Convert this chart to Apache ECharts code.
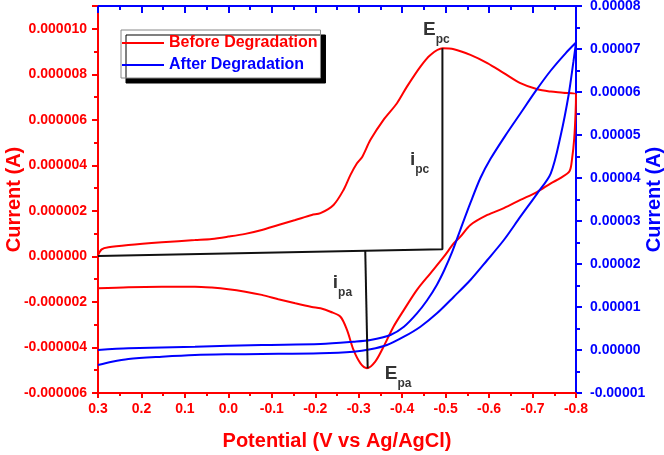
<!DOCTYPE html>
<html><head><meta charset="utf-8">
<script src="https://cdn.jsdelivr.net/npm/echarts@6/dist/echarts.min.js"></script>
<style>html,body{margin:0;padding:0;background:#fff}#c{width:664px;height:455px}</style>
</head><body><div id="c"></div>
<script>
// Potential (V vs Ag/AgCl) and current (µA)
const redPotential = [0.30, 0.2915, 0.276, 0.230, 0.153, 0.077, 0.038, 0.000, -0.039, -0.077, -0.115, -0.154, -0.192, -0.212, -0.242, -0.265, -0.281, -0.296, -0.308, -0.327, -0.357, -0.388, -0.411, -0.442, -0.465, -0.493, -0.519, -0.557, -0.596, -0.634, -0.672, -0.711, -0.742, -0.770, -0.800,
  -0.799, -0.796, -0.791, -0.785, -0.765, -0.742, -0.711, -0.672, -0.634, -0.596, -0.557, -0.534, -0.519, -0.496, -0.465, -0.434, -0.404, -0.380, -0.357, -0.338, -0.319, -0.304, -0.288, -0.273, -0.258, -0.235, -0.212, -0.192, -0.154, -0.115, -0.077, -0.039, 0.000, 0.038, 0.077, 0.153, 0.230, 0.300];
const redCurrent = [0.06, 0.31, 0.40, 0.50, 0.62, 0.72, 0.77, 0.87, 0.99, 1.16, 1.38, 1.60, 1.82, 1.90, 2.26, 2.92, 3.58, 4.09, 4.37, 5.12, 6.00, 6.73, 7.46, 8.34, 8.85, 9.14, 9.10, 8.85, 8.49, 8.05, 7.61, 7.34, 7.24, 7.19, 7.12,
  6.30, 5.20, 4.30, 3.74, 3.45, 3.21, 2.84, 2.48, 2.12, 1.82, 1.38, 0.87, 0.58, -0.01, -0.74, -1.47, -2.35, -3.09, -3.97, -4.62, -4.91, -4.70, -4.11, -3.23, -2.65, -2.43, -2.28, -2.22, -2.06, -1.88, -1.69, -1.55, -1.44, -1.37, -1.33, -1.33, -1.35, -1.40];

const bluePotential = [0.30, 0.268, 0.230, 0.153, 0.077, 0.000, -0.077, -0.212, -0.288, -0.327, -0.365, -0.404, -0.442, -0.480, -0.519, -0.557, -0.596, -0.634, -0.672, -0.711, -0.742, -0.765, -0.783, -0.794, -0.800,
  -0.776, -0.742, -0.707, -0.672, -0.637, -0.603, -0.580, -0.557, -0.534, -0.515, -0.497, -0.480, -0.457, -0.434, -0.404, -0.373, -0.327, -0.288, -0.212, -0.077, 0.077, 0.230, 0.300];
const blueCurrent = [-3.49, -2.72, -2.09, -1.56, -1.16, -1.00, -0.93, -0.77, -0.40, 0.16, 1.16, 3.09, 5.42, 8.53, 12.40, 16.28, 20.93, 25.58, 31.0, 36.44, 41.09, 50.0, 59.3, 67.0, 71.5,
  69.0, 65.0, 60.2, 55.0, 49.8, 44.4, 40.0, 34.2, 28.0, 22.8, 18.6, 15.2, 11.5, 8.5, 5.4, 3.5, 2.33, 1.93, 1.40, 1.16, 0.77, 0.40, 0.0];

// annotation guide lines (V, µA on left axis)
const epcLinePotential = [0.30, -0.4926, -0.4926];
const epcLineCurrent = [0.02, 0.31, 9.14];
const ipaLinePotential = [-0.315, -0.3206];
const ipaLineCurrent = [0.25, -4.91];

// annotation texts
const notePotential = [-0.449, -0.419, -0.2415, -0.361];
const noteCurrent = [10.34, 4.63, -0.77, -4.77];
const noteMain = ['E', 'i', 'i', 'E'];
const noteSub = ['pc', 'pc', 'pa', 'pa'];

const seriesNames = ['Before Degradation', 'After Degradation'];
const xAxisName = 'Potential (V vs Ag/AgCl)';
const yAxisName = 'Current (A)';

const RED = '#ff0000', BLUE = '#0000ff', FONT = '"Liberation Sans", Arial, sans-serif';
const pairs = (xs, ys) => xs.map((x, i) => [x, ys[i]]);

const chart = echarts.init(document.getElementById('c'), null, {renderer: 'canvas'});
const tickStyle = c => ({color: c, width: 2});
const option = {
  animation: false,
  backgroundColor: '#fff',
  grid: {left: 98, right: 88, top: 6, bottom: 62, containLabel: false, outerBoundsMode: 'none'},
  legend: {
    orient: 'vertical', left: 121, top: 30,
    data: [{name: seriesNames[0], textStyle: {color: RED}}, {name: seriesNames[1], textStyle: {color: BLUE}}],
    icon: 'rect', itemWidth: 42, itemHeight: 2, itemGap: 6,
    padding: [5, 3, 5, 1],
    backgroundColor: '#fff', borderColor: '#888', borderWidth: 1,
    shadowColor: '#000', shadowOffsetX: 5, shadowOffsetY: 5, shadowBlur: 0,
    textStyle: {fontFamily: FONT, fontWeight: 'bold', fontSize: 16}
  },
  xAxis: [{
    type: 'value', position: 'bottom', inverse: true, min: -0.8, max: 0.3, interval: 0.1,
    name: xAxisName, nameLocation: 'middle', nameGap: 38, nameMoveOverlap: false,
    nameTextStyle: {color: RED, fontFamily: FONT, fontWeight: 'bold', fontSize: 20},
    axisLine: {onZero: false, lineStyle: tickStyle(RED)},
    axisTick: {inside: false, length: 5, lineStyle: tickStyle(RED)},
    minorTick: {show: true, splitNumber: 2, length: 3, lineStyle: tickStyle(RED)},
    axisLabel: {color: RED, fontFamily: FONT, fontWeight: 'bold', fontSize: 14, margin: 9,
      formatter: v => Math.abs(v) < 1e-9 ? '0.0' : v.toFixed(1)},
    splitLine: {show: false}
  }, {
    type: 'value', position: 'top', inverse: true, min: -0.8, max: 0.3, interval: 0.1,
    axisLine: {onZero: false, lineStyle: tickStyle(BLUE)},
    axisTick: {inside: true, length: 7, lineStyle: tickStyle(BLUE)},
    minorTick: {show: true, splitNumber: 2, length: 4, lineStyle: tickStyle(BLUE)},
    axisLabel: {show: false}, splitLine: {show: false}
  }],
  yAxis: [{
    type: 'value', position: 'left', min: -6, max: 11, interval: 2,
    name: yAxisName, nameLocation: 'middle', nameGap: 74, nameRotate: 90, nameMoveOverlap: false,
    nameTextStyle: {color: RED, fontFamily: FONT, fontWeight: 'bold', fontSize: 20},
    axisLine: {onZero: false, lineStyle: tickStyle(RED)},
    axisTick: {inside: false, length: 6, lineStyle: tickStyle(RED)},
    minorTick: {show: true, splitNumber: 2, length: 4, lineStyle: tickStyle(RED)},
    axisLabel: {color: RED, fontFamily: FONT, fontWeight: 'bold', fontSize: 14, margin: 11, showMaxLabel: false,
      formatter: v => Math.abs(v - 11) < 1e-9 ? '' : (v * 1e-6).toFixed(6)},
    splitLine: {show: false}
  }, {
    type: 'value', position: 'right', min: -10, max: 80, interval: 10,
    name: yAxisName, nameLocation: 'middle', nameGap: 68, nameRotate: 90, nameMoveOverlap: false,
    nameTextStyle: {color: BLUE, fontFamily: FONT, fontWeight: 'bold', fontSize: 20},
    axisLine: {onZero: false, lineStyle: tickStyle(BLUE)},
    axisTick: {inside: false, length: 6, lineStyle: tickStyle(BLUE)},
    minorTick: {show: true, splitNumber: 2, length: 4, lineStyle: tickStyle(BLUE)},
    axisLabel: {color: BLUE, fontFamily: FONT, fontWeight: 'bold', fontSize: 14, margin: 14,
      formatter: v => (v * 1e-6).toFixed(5)},
    splitLine: {show: false}
  }],
  series: [{
    name: seriesNames[0], type: 'line', xAxisIndex: 0, yAxisIndex: 0,
    data: pairs(redPotential, redCurrent), symbol: 'none', smooth: 0.3,
    lineStyle: {color: RED, width: 2}, itemStyle: {color: RED}, z: 3
  }, {
    name: seriesNames[1], type: 'line', xAxisIndex: 0, yAxisIndex: 1,
    data: pairs(bluePotential, blueCurrent), symbol: 'none', smooth: 0.3,
    lineStyle: {color: BLUE, width: 2}, itemStyle: {color: BLUE}, z: 4
  }, {
    name: 'Epc guide', type: 'line', xAxisIndex: 0, yAxisIndex: 0,
    data: pairs(epcLinePotential, epcLineCurrent), symbol: 'none', silent: true,
    lineStyle: {color: '#111', width: 2}, z: 5
  }, {
    name: 'Epa guide', type: 'line', xAxisIndex: 0, yAxisIndex: 0,
    data: pairs(ipaLinePotential, ipaLineCurrent), symbol: 'none', silent: true,
    lineStyle: {color: '#111', width: 2}, z: 5
  }, {
    name: 'notes', type: 'scatter', xAxisIndex: 0, yAxisIndex: 0, symbolSize: 1, silent: true,
    itemStyle: {color: 'rgba(0,0,0,0)'}, z: 6,
    data: notePotential.map((v, i) => ({value: [v, noteCurrent[i]], label: {formatter: '{m|' + noteMain[i] + '}{s|' + noteSub[i] + '}'}})),
    label: {show: true, position: [0, 0], align: 'left', verticalAlign: 'top',
      rich: {
        m: {fontFamily: FONT, fontWeight: 'bold', fontSize: 19, color: '#000', lineHeight: 20, verticalAlign: 'top'},
        s: {fontFamily: FONT, fontWeight: 'bold', fontSize: 12, color: '#000', lineHeight: 25, verticalAlign: 'bottom'}
      }}
  }]
};
chart.setOption(option);
</script>
</body></html>
